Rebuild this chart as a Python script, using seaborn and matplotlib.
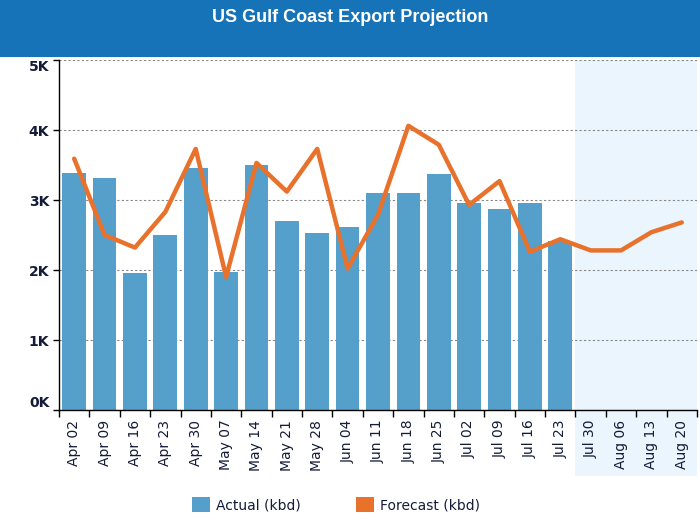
import matplotlib.pyplot as plt
import pandas as pd
import seaborn as sns
from matplotlib.patches import Patch, Rectangle

# Week labels and values (kbd)
weeks = ['Apr 02', 'Apr 09', 'Apr 16', 'Apr 23', 'Apr 30', 'May 07', 'May 14',
         'May 21', 'May 28', 'Jun 04', 'Jun 11', 'Jun 18', 'Jun 25', 'Jul 02',
         'Jul 09', 'Jul 16', 'Jul 23', 'Jul 30', 'Aug 06', 'Aug 13', 'Aug 20']
actual = [3380, 3310, 1955, 2500, 3460, 1970, 3505, 2700, 2530, 2610, 3100,
          3100, 3370, 2960, 2870, 2960, 2410]
forecast = [3590, 2500, 2320, 2830, 3730, 1900, 3530, 3120, 3730, 2020, 2790,
            4060, 3790, 2930, 3270, 2260, 2440, 2280, 2280, 2540, 2680]
yticks = [0, 1000, 2000, 3000, 4000, 5000]
ytick_labels = ['0K', '1K', '2K', '3K', '4K', '5K']

header_blue = '#1673B8'
bar_blue = '#559FCB'
orange = '#E8712B'
shade = '#EAF5FD'
text_col = '#141B38'

n_actual = len(actual)
df_bar = pd.DataFrame({'week': weeks[:n_actual], 'value': actual})
df_line = pd.DataFrame({'pos': range(len(weeks)), 'value': forecast})

sns.set_style('white')
plt.rcParams['font.family'] = ['DejaVu Sans']

fig = plt.figure(figsize=(7, 5.24), dpi=100)
ax = fig.add_axes([59 / 700, 1 - 410 / 524, 638 / 700, 350 / 524])

# header band + title
fig.patches.append(Rectangle((0, 1 - 57 / 524), 1, 57 / 524, transform=fig.transFigure,
                             facecolor=header_blue, edgecolor='none', zorder=0))
fig.text(0.5, 1 - 18 / 524, 'US Gulf Coast Export Projection', ha='center', va='center',
         color='white', fontsize=13, fontweight='bold', family='Liberation Sans')

# projection shading (extends under the tick labels)
ax.axvspan(n_actual - 0.5, len(weeks) - 0.5, ymin=-66 / 350, ymax=1, color=shade,
           zorder=0, clip_on=False, lw=0)

sns.barplot(data=df_bar, x='week', y='value', order=weeks, color=bar_blue,
            saturation=1, width=0.78, linewidth=0, ax=ax, zorder=2)
sns.lineplot(data=df_line, x='pos', y='value', color=orange, linewidth=3.2,
             ax=ax, zorder=3)

ax.set_xlim(-0.5, len(weeks) - 0.5)
ax.set_ylim(0, 5000)
ax.set_xlabel('')
ax.set_ylabel('')

# y axis
ax.set_yticks(yticks)
ax.set_yticklabels(ytick_labels, fontsize=10, fontweight='bold', color=text_col)
labels = ax.get_yticklabels()
labels[0].set_va('bottom')
labels[-1].set_va('top')
ax.tick_params(axis='y', length=4, width=1, color='black', pad=3, left=True)
ax.grid(axis='y', color='#888888', linestyle=(0, (2, 2)), linewidth=0.8, zorder=1)
ax.set_axisbelow(True)

# x axis: ticks at category boundaries, labels at centres
ax.set_xticks([i - 0.5 for i in range(len(weeks) + 1)], minor=False)
ax.set_xticklabels([''] * (len(weeks) + 1))
ax.set_xticks(range(len(weeks)), minor=True)
ax.set_xticklabels(weeks, minor=True, rotation=90, fontsize=10, color=text_col)
ax.tick_params(axis='x', which='major', length=5, width=1, color='black', bottom=True)
ax.tick_params(axis='x', which='minor', length=0, pad=7)

for side in ['top', 'right']:
    ax.spines[side].set_visible(False)
for side in ['left', 'bottom']:
    ax.spines[side].set_color('black')
    ax.spines[side].set_linewidth(1)
    ax.spines[side].set_zorder(4)

handles = [Patch(facecolor=bar_blue, edgecolor='none', label='Actual (kbd)'),
           Patch(facecolor=orange, edgecolor='none', label='Forecast (kbd)')]
leg = fig.legend(handles=handles, loc='center', bbox_to_anchor=(336 / 700, 1 - 505 / 524),
                 ncol=2, frameon=False, fontsize=10, handlelength=1.25, handleheight=1.25,
                 handletextpad=0.45, columnspacing=4)
for t in leg.get_texts():
    t.set_color(text_col)

fig.savefig('out.png', dpi=100)
